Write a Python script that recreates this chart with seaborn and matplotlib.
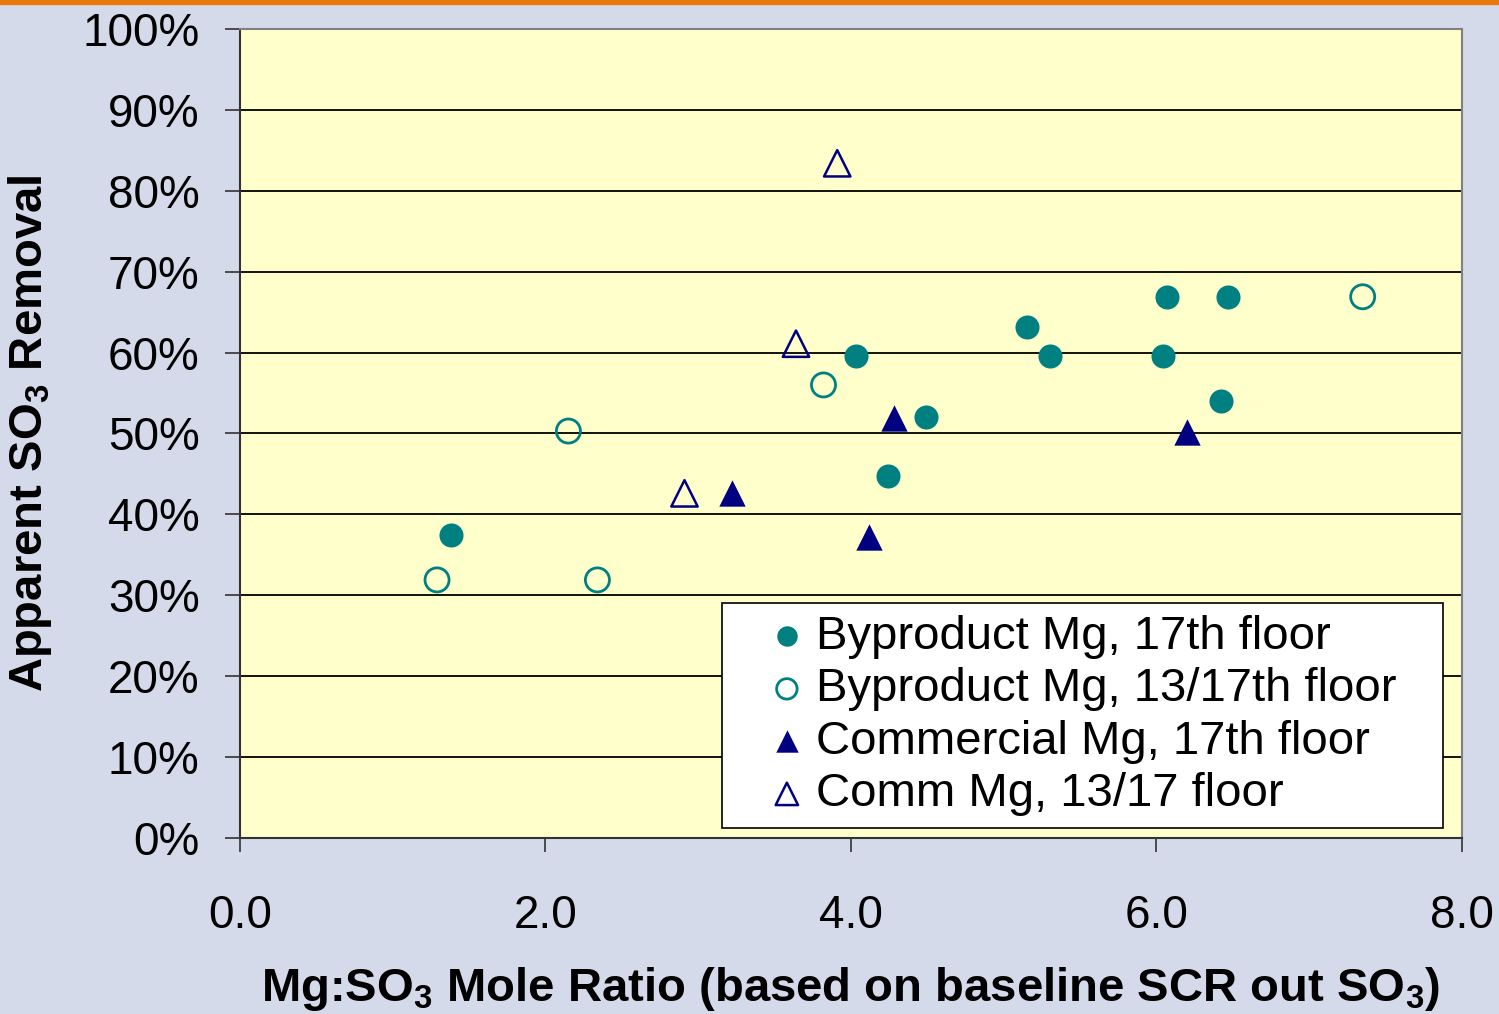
import matplotlib
matplotlib.use("Agg")
import matplotlib.pyplot as plt
import seaborn as sns
import pandas as pd
from matplotlib.ticker import FuncFormatter

sns.set_theme(style="white")
plt.rcParams['font.family'] = ['Liberation Sans', 'DejaVu Sans']
plt.rcParams['mathtext.fontset'] = 'custom'
plt.rcParams['mathtext.rm'] = 'Liberation Sans'
plt.rcParams['mathtext.bf'] = 'Liberation Sans:bold'
for k in ['text.color', 'axes.labelcolor', 'xtick.color', 'ytick.color']:
    plt.rcParams[k] = 'black'

# Data (x = Mg:SO3 mole ratio, y = apparent SO3 removal %)
byp17_x = [1.38, 4.03, 4.49, 4.24, 5.15, 5.30, 6.07, 6.47, 6.04, 6.42]
byp17_y = [37.5, 59.6, 52.0, 44.7, 63.2, 59.6, 66.9, 66.9, 59.6, 54.0]
byp1317_x = [1.29, 2.15, 2.34, 3.82, 7.35]
byp1317_y = [31.9, 50.3, 31.9, 56.0, 66.9]
com17_x = [3.22, 4.12, 4.28, 6.20]
com17_y = [42.6, 37.2, 51.9, 50.2]
com1317_x = [2.91, 3.64, 3.91]
com1317_y = [42.6, 61.1, 83.4]

labels = ["Byproduct Mg, 17th floor", "Byproduct Mg, 13/17th floor",
          "Commercial Mg, 17th floor", "Comm Mg, 13/17 floor"]
x_ticks = [0, 2, 4, 6, 8]
y_ticks = list(range(0, 101, 10))

teal = "#008080"
navy = "#000080"

fig = plt.figure(figsize=(14.99, 10.14), dpi=100, facecolor="#D5DAEB")
ax = fig.add_axes([0.1601, 0.1736, 0.8152, 0.7978])
ax.set_facecolor("#FFFFCC")

# orange band at top
fig.patches.append(plt.Rectangle((0, 0.996), 1, 0.004, transform=fig.transFigure,
                                 color="#E8780A", zorder=10))

for y in y_ticks[1:-1]:
    ax.axhline(y, color="black", lw=1.3, zorder=1)

sns.scatterplot(x=byp17_x, y=byp17_y, ax=ax, marker="o", s=300, color=teal,
                edgecolor=teal, linewidth=0, label=labels[0], zorder=3)
sns.scatterplot(x=byp1317_x, y=byp1317_y, ax=ax, marker="o", s=300, facecolor="none",
                edgecolor=teal, linewidth=2, label=labels[1], zorder=3)
sns.scatterplot(x=com17_x, y=com17_y, ax=ax, marker="^", s=360, color=navy,
                edgecolor=navy, linewidth=0, label=labels[2], zorder=3)
sns.scatterplot(x=com1317_x, y=com1317_y, ax=ax, marker="^", s=360, facecolor="none",
                edgecolor=navy, linewidth=1.8, label=labels[3], zorder=3)

ax.set_xlim(0, 8)
ax.set_ylim(0, 100)
ax.set_xticks(x_ticks)
ax.set_yticks(y_ticks)
ax.xaxis.set_major_formatter(FuncFormatter(lambda v, p: f"{v:.1f}"))
ax.yaxis.set_major_formatter(FuncFormatter(lambda v, p: f"{int(v)}%"))
ax.tick_params(axis="y", direction="out", length=11, width=1.2, color="#333333",
               labelsize=33, pad=18, left=True, labelcolor="black")
ax.tick_params(axis="x", direction="out", length=10, width=1.2, color="#333333",
               labelsize=33, pad=30, bottom=True, labelcolor="black")

for side in ["top", "right"]:
    ax.spines[side].set_color("#808080")
    ax.spines[side].set_linewidth(1.5)
for side in ["left", "bottom"]:
    ax.spines[side].set_color("#333333")
    ax.spines[side].set_linewidth(1.5)

ax.set_xlabel(r"Mg:SO$_\mathbf{3}$ Mole Ratio (based on baseline SCR out SO$_\mathbf{3}$)",
              fontsize=34, fontweight="bold", color="black")
ax.xaxis.set_label_coords(0.5, -0.157)
ax.set_ylabel(r"Apparent SO$_\mathbf{3}$ Removal", fontsize=34, fontweight="bold",
              color="black")
ax.yaxis.set_label_coords(-0.152, 0.5)

leg = ax.legend(loc="upper left", bbox_to_anchor=(0.3944, 0.2905, 0.5901, 0.0),
                mode="expand", borderaxespad=0, fontsize=34, markerscale=0.85,
                frameon=True, fancybox=False, edgecolor="black", framealpha=1,
                handletextpad=-0.5, labelspacing=0.18, borderpad=0.25,
                handlelength=2.25)
leg.get_frame().set_linewidth(1.2)
for t in leg.get_texts():
    t.set_color("black")

fig.savefig("out.png", dpi=100, facecolor=fig.get_facecolor())
